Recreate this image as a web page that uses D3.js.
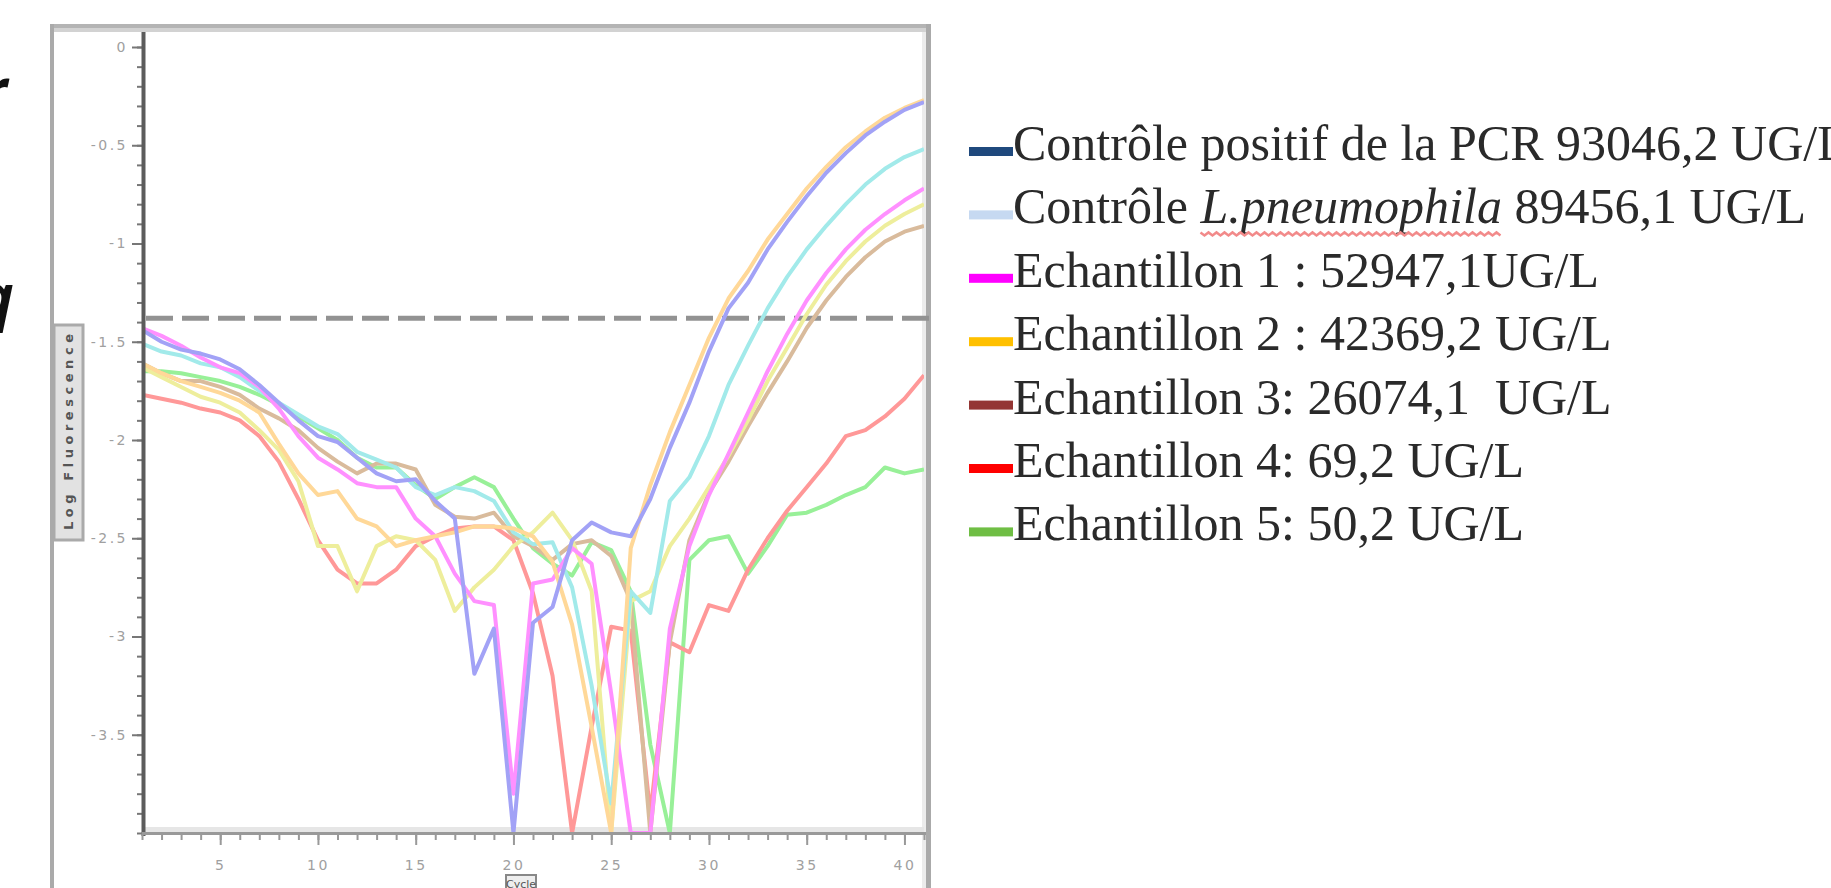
<!DOCTYPE html>
<html>
<head>
<meta charset="utf-8">
<script src="https://cdnjs.cloudflare.com/ajax/libs/d3/7.8.5/d3.min.js"></script>
<style>
  html, body { margin: 0; padding: 0; background: #fff; overflow: hidden; }
  svg { display: block; }
  .legend-text { white-space: pre; }
</style>
</head>
<body>
<svg id="chart" width="1831" height="888"></svg>
<script>

// cycles 1..41
const cycles = d3.range(1, 42);

// curves as they appear in the plot (log fluorescence per cycle)
const purpleCurve = [-1.44, -1.50, -1.54, -1.56, -1.59, -1.64, -1.72, -1.81, -1.90, -1.98,
    -2.01, -2.09, -2.17, -2.21, -2.20, -2.31, -2.40, -3.19, -2.96, -4.00,
    -2.93, -2.85, -2.51, -2.42, -2.47, -2.49, -2.30, -2.04, -1.81, -1.55,
    -1.33, -1.20, -1.03, -0.89, -0.76, -0.64, -0.54, -0.45, -0.38, -0.32, -0.28];
const orangeCurve = [-1.61, -1.66, -1.70, -1.73, -1.76, -1.80, -1.86, -2.02, -2.17, -2.28,
    -2.26, -2.40, -2.44, -2.54, -2.51, -2.49, -2.47, -2.44, -2.44, -2.45,
    -2.49, -2.62, -2.94, -3.46, -4.00, -2.55, -2.23, -1.96, -1.72, -1.48,
    -1.28, -1.14, -0.98, -0.85, -0.72, -0.61, -0.51, -0.43, -0.36, -0.31, -0.27];
const cyanCurve = [-1.51, -1.55, -1.57, -1.61, -1.63, -1.68, -1.75, -1.81, -1.87, -1.93,
    -1.97, -2.06, -2.10, -2.14, -2.24, -2.28, -2.24, -2.26, -2.31, -2.47,
    -2.53, -2.52, -2.75, -3.25, -3.85, -2.77, -2.88, -2.31, -2.19, -1.98,
    -1.72, -1.52, -1.33, -1.17, -1.03, -0.91, -0.80, -0.70, -0.62, -0.56, -0.52];
const pinkCurve = [-1.43, -1.47, -1.52, -1.58, -1.63, -1.66, -1.73, -1.84, -1.98, -2.09,
    -2.15, -2.22, -2.24, -2.24, -2.40, -2.49, -2.68, -2.82, -2.84, -3.80,
    -2.73, -2.71, -2.55, -2.63, -3.29, -4.00, -4.00, -2.96, -2.54, -2.28,
    -2.07, -1.86, -1.65, -1.46, -1.29, -1.15, -1.03, -0.93, -0.85, -0.78, -0.72];
const yellowCurve = [-1.63, -1.68, -1.73, -1.78, -1.81, -1.86, -1.95, -2.05, -2.21, -2.54,
    -2.54, -2.77, -2.54, -2.49, -2.51, -2.61, -2.87, -2.75, -2.66, -2.54,
    -2.47, -2.37, -2.51, -2.77, -4.00, -2.82, -2.77, -2.54, -2.40, -2.24,
    -2.08, -1.90, -1.70, -1.53, -1.36, -1.21, -1.09, -0.99, -0.91, -0.85, -0.80];
const tanCurve = [-1.61, -1.66, -1.70, -1.70, -1.73, -1.77, -1.84, -1.89, -1.95, -2.04,
    -2.11, -2.17, -2.12, -2.12, -2.15, -2.33, -2.39, -2.40, -2.37, -2.49,
    -2.54, -2.61, -2.53, -2.51, -2.59, -2.82, -4.00, -3.03, -2.51, -2.27,
    -2.11, -1.93, -1.76, -1.60, -1.43, -1.29, -1.17, -1.07, -0.99, -0.94, -0.91];
const redCurve = [-1.77, -1.79, -1.81, -1.84, -1.86, -1.90, -1.98, -2.11, -2.30, -2.51,
    -2.66, -2.73, -2.73, -2.66, -2.54, -2.49, -2.45, -2.44, -2.44, -2.51,
    -2.78, -3.20, -4.00, -3.46, -2.95, -2.97, -3.90, -3.03, -3.08, -2.84,
    -2.87, -2.66, -2.50, -2.36, -2.24, -2.12, -1.98, -1.95, -1.88, -1.79, -1.67];
const greenCurve = [-1.65, -1.65, -1.66, -1.68, -1.70, -1.73, -1.77, -1.82, -1.88, -1.94,
    -2.00, -2.09, -2.14, -2.14, -2.23, -2.30, -2.24, -2.19, -2.24, -2.40,
    -2.55, -2.63, -2.69, -2.52, -2.56, -2.77, -3.55, -4.00, -2.61, -2.51,
    -2.49, -2.68, -2.54, -2.38, -2.37, -2.33, -2.28, -2.24, -2.14, -2.17, -2.15];

const threshold = -1.38;

const yMajorTicks = [0, -0.5, -1, -1.5, -2, -2.5, -3, -3.5];
const yMinorTicks = d3.range(0, 41).map(i => -i / 10);
const xMajorTicks = [5, 10, 15, 20, 25, 30, 35, 40];

const legendLabels = [
    "Contrôle positif de la PCR 93046,2 UG/L",
    "Contrôle L.pneumophila 89456,1 UG/L",
    "Echantillon 1 : 52947,1UG/L",
    "Echantillon 2 : 42369,2 UG/L",
    "Echantillon 3: 26074,1  UG/L",
    "Echantillon 4: 69,2 UG/L",
    "Echantillon 5: 50,2 UG/L"
];
const legendColors = ["#1f497d", "#c6d9f1", "#ff00ff", "#ffc000", "#943634", "#ff0000", "#6fbe44"];
const italicPart = "L.pneumophila";

const curves = [
    {values: greenCurve, color: "#98f098"},
    {values: redCurve, color: "#ff9898"},
    {values: tanCurve, color: "#d9bb9c"},
    {values: yellowCurve, color: "#eeee9c"},
    {values: cyanCurve, color: "#a2eaea"},
    {values: pinkCurve, color: "#ff90ff"},
    {values: orangeCurve, color: "#ffd898"},
    {values: purpleCurve, color: "#a2a2f6"}
];

const svg = d3.select("#chart");

const x = d3.scaleLinear().domain([1, 41]).range([142, 924]);
const y = d3.scaleLinear().domain([-4, 0]).range([833, 47]);

// screenshot frame around the plot
svg.append("rect").attr("x", 50).attr("y", 24).attr("width", 881).attr("height", 4).style("fill", "#b4b4b4");
svg.append("rect").attr("x", 54).attr("y", 28).attr("width", 872).attr("height", 4).style("fill", "#d2d2d2");
svg.append("rect").attr("x", 50).attr("y", 24).attr("width", 4).attr("height", 864).style("fill", "#aaa");
svg.append("rect").attr("x", 922).attr("y", 32).attr("width", 4).attr("height", 856).style("fill", "#ececec");
svg.append("rect").attr("x", 926).attr("y", 24).attr("width", 5).attr("height", 864).style("fill", "#aaa");

// light band above the x axis
svg.append("rect").attr("x", 142).attr("y", 827).attr("width", 782).attr("height", 5).style("fill", "#e6e6e6");

// clip for the curves
svg.append("defs").append("clipPath").attr("id", "plotClip")
    .append("rect").attr("x", 142).attr("y", 32).attr("width", 782).attr("height", 801);

// threshold line
svg.append("line")
    .attr("x1", 146).attr("x2", 930)
    .attr("y1", y(threshold)).attr("y2", y(threshold))
    .style("stroke", "#929292")
    .style("stroke-width", 5)
    .style("stroke-dasharray", "27 9");

const line = d3.line()
    .x((d, i) => x(cycles[i]))
    .y(d => y(d));

svg.append("g")
    .attr("clip-path", "url(#plotClip)")
    .selectAll("path")
    .data(curves)
    .enter()
    .append("path")
    .attr("d", d => line(d.values))
    .style("fill", "none")
    .style("stroke", d => d.color)
    .style("stroke-width", 4)
    .style("stroke-linejoin", "round");

// y axis
const yMinor = svg.append("g")
    .attr("transform", "translate(143,0)")
    .call(d3.axisLeft(y).tickValues(yMinorTicks).tickSize(6).tickFormat(""));
const yMajor = svg.append("g")
    .attr("transform", "translate(143,0)")
    .call(d3.axisLeft(y).tickValues(yMajorTicks).tickSize(11).tickPadding(4).tickFormat(d => String(d)));

[yMinor, yMajor].forEach(g => {
    g.select(".domain").remove();
    g.selectAll(".tick line").style("stroke", "#777").style("stroke-width", 2);
});
yMajor.selectAll(".tick text")
    .style("font-family", "DejaVu Sans")
    .style("font-size", "14px")
    .style("letter-spacing", "2.5px")
    .style("fill", "#a0a0a0");

svg.append("line")
    .attr("x1", 143.5).attr("x2", 143.5)
    .attr("y1", 32).attr("y2", 836)
    .style("stroke", "#5c5c5c")
    .style("stroke-width", 4);

// x axis
const xMinor = svg.append("g")
    .attr("transform", "translate(0,833)")
    .call(d3.axisBottom(x).tickValues(cycles).tickSize(7).tickFormat(""));
const xMajor = svg.append("g")
    .attr("transform", "translate(0,833)")
    .call(d3.axisBottom(x).tickValues(xMajorTicks).tickSize(12).tickPadding(15).tickFormat(d => String(d)));

[xMinor, xMajor].forEach(g => {
    g.select(".domain").remove();
    g.selectAll(".tick line").style("stroke", "#999").style("stroke-width", 2);
});
xMajor.selectAll(".tick text")
    .style("font-family", "DejaVu Sans")
    .style("font-size", "14px")
    .style("letter-spacing", "2.5px")
    .style("fill", "#a0a0a0");

svg.append("line")
    .attr("x1", 142).attr("x2", 926)
    .attr("y1", 833.5).attr("y2", 833.5)
    .style("stroke", "#999")
    .style("stroke-width", 3);

// axis titles in their little boxes
svg.append("rect").attr("x", 54).attr("y", 325).attr("width", 29).attr("height", 215)
    .style("fill", "#e2e2e2").style("stroke", "#aaa").style("stroke-width", 3);
svg.append("text")
    .attr("transform", "translate(73,432) rotate(-90)")
    .attr("text-anchor", "middle")
    .attr("textLength", 196)
    .attr("lengthAdjust", "spacing")
    .style("font-family", "DejaVu Sans")
    .style("font-weight", "bold")
    .style("font-size", "13px")
    .style("fill", "#555")
    .text("Log Fluorescence");

svg.append("rect").attr("x", 506).attr("y", 875).attr("width", 30).attr("height", 18)
    .style("fill", "#eee").style("stroke", "#888").style("stroke-width", 2);
svg.append("text")
    .attr("x", 521).attr("y", 888)
    .attr("text-anchor", "middle")
    .style("font-family", "DejaVu Sans")
    .style("font-size", "11px")
    .style("fill", "#555")
    .text("Cycle");

// fragments of cut-off text on the left edge
svg.append("text")
    .attr("x", -18).attr("y", 112)
    .style("font-family", "Open Sans")
    .style("font-style", "italic")
    .style("font-weight", "bold")
    .style("font-size", "60px")
    .style("fill", "#111")
    .text("r");
svg.append("text")
    .attr("x", -22).attr("y", 318)
    .style("font-family", "Open Sans")
    .style("font-style", "italic")
    .style("font-weight", "bold")
    .style("font-size", "60px")
    .style("fill", "#111")
    .text("q");

// legend
const legend = svg.append("g")
    .selectAll("g.legend-item")
    .data(legendLabels)
    .enter()
    .append("g")
    .attr("class", "legend-item")
    .attr("transform", (d, i) => `translate(0, ${160 + i * 63.4})`);

legend.append("rect")
    .attr("x", 969)
    .attr("y", -13)
    .attr("width", 44)
    .attr("height", 9)
    .style("fill", (d, i) => legendColors[i]);

legend.append("text")
    .attr("class", "legend-text")
    .attr("x", 1013)
    .attr("y", 0)
    .style("font-family", "Liberation Serif")
    .style("font-size", "50px")
    .style("fill", "#2a2a2a")
    .each(function (d) {
        const t = d3.select(this);
        const k = d.indexOf(italicPart);
        if (k < 0) {
            t.text(d);
            return;
        }
        t.append("tspan").text(d.slice(0, k));
        t.append("tspan").attr("class", "italic-part").style("font-style", "italic").text(italicPart);
        t.append("tspan").text(d.slice(k + italicPart.length));
    });

// spell-check squiggle under the italic species name
const italicNode = svg.select("tspan.italic-part").node();
if (italicNode) {
    const start = italicNode.getStartPositionOfChar(0).x;
    const end = italicNode.getEndPositionOfChar(italicPart.length - 1).x;
    const yy = 160 + 63.4 + 10;
    const pts = d3.range(start, end, 4).map((px, i) => [px, yy + (i % 2 ? 2 : -1)]);
    svg.append("path")
        .attr("d", d3.line()(pts))
        .style("fill", "none")
        .style("stroke", "#f28a8a")
        .style("stroke-width", 2.5);
}

</script>
</body>
</html>
